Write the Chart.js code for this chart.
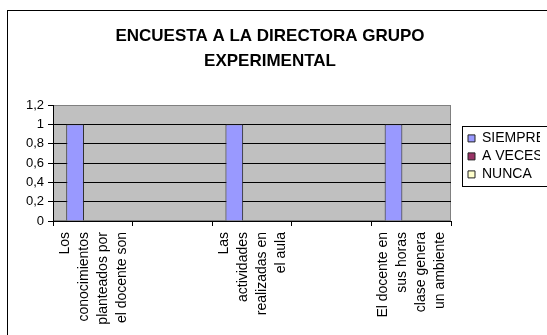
<!DOCTYPE html>
<html>
<head>
<meta charset="utf-8">
<script src="https://cdn.jsdelivr.net/npm/chart.js@4/dist/chart.umd.min.js"></script>
<style>
  html, body { margin: 0; padding: 0; background: #ffffff; overflow: hidden; width: 547px; height: 335px; }
  #frame { position: absolute; left: 7px; top: 10px; width: 600px; height: 400px; border: 1px solid #000; box-sizing: border-box; }
  #c { position: absolute; left: 0; top: 0; }
</style>
</head>
<body>
<div id="frame"></div>
<canvas id="c" width="547" height="335"></canvas>
<script>
const titleLines = ['ENCUESTA A LA DIRECTORA GRUPO', 'EXPERIMENTAL'];
const categories = [
  ['Los', 'conocimientos', 'planteados por', 'el docente son'],
  '',
  ['Las', 'actividades', 'realizadas en', 'el aula'],
  '',
  ['El docente en', 'sus horas', 'clase genera', 'un ambiente']
];
const seriesNames = ['SIEMPRE', 'A VECES', 'NUNCA'];
const siempre = [1, 0, 1, 0, 1];
const aVeces = [0, 0, 0, 0, 0];
const nunca = [0, 0, 0, 0, 0];
const yTickLabels = ['0', '0,2', '0,4', '0,6', '0,8', '1', '1,2'];

const FONT = '"Liberation Sans", Arial, sans-serif';

const plotBg = {
  id: 'plotBg',
  beforeDraw(chart) {
    const { ctx, chartArea: a } = chart;
    ctx.save();
    ctx.fillStyle = '#C0C0C0';
    ctx.fillRect(a.left, a.top, a.width, a.height);
    ctx.strokeStyle = '#808080';
    ctx.lineWidth = 1;
    ctx.strokeRect(a.left + 0.5, a.top + 0.5, a.width - 1, a.height - 1);
    ctx.restore();
  }
};
const legendBorder = {
  id: 'legendBorder',
  afterDraw(chart) {
    const hb = chart.legend && chart.legend.legendHitBoxes;
    if (!hb || !hb.length) return;
    const { ctx } = chart;
    const left = Math.round(hb[0].left) - 6;
    const top = Math.round(hb[0].top) - 5;
    const last = hb[hb.length - 1];
    const bottom = Math.round(last.top + last.height) + 5;
    ctx.save();
    ctx.strokeStyle = '#000';
    ctx.lineWidth = 1;
    ctx.strokeRect(left + 0.5, top + 0.5, chart.width + 20, bottom - top);
    ctx.restore();
  }
};

new Chart(document.getElementById('c'), {
  type: 'bar',
  data: {
    labels: categories,
    datasets: [
      { label: seriesNames[0], data: siempre, backgroundColor: '#9999FF', borderColor: '#222222', borderWidth: 1, borderSkipped: 'start' },
      { label: seriesNames[1], data: aVeces, backgroundColor: '#993366', borderColor: '#222222', borderWidth: 1, borderSkipped: 'start' },
      { label: seriesNames[2], data: nunca, backgroundColor: '#FFFFCC', borderColor: '#222222', borderWidth: 1, borderSkipped: 'start' }
    ]
  },
  options: {
    responsive: false,
    animation: false,
    devicePixelRatio: 1,
    layout: { padding: { left: 0, right: 7, top: 0, bottom: 0 } },
    datasets: { bar: { categoryPercentage: 0.667, barPercentage: 1.0 } },
    plugins: {
      title: {
        display: true,
        text: titleLines,
        color: '#000',
        font: { family: FONT, size: 17, weight: 'bold', lineHeight: '25px' },
        padding: { top: 24, bottom: 31 }
      },
      legend: {
        position: 'right',
        align: 'start',
        fullSize: false,
        maxWidth: 76,
        title: { display: true, text: '', font: { size: 12 }, padding: { top: 8, bottom: 0 } },
        labels: {
          color: '#000',
          font: { family: FONT, size: 14 },
          boxWidth: 7,
          boxHeight: 7,
          padding: 4
        }
      },
      tooltip: { enabled: false }
    },
    scales: {
      x: {
        offset: true,
        grid: { display: true, drawOnChartArea: false, drawTicks: true, tickLength: 5, color: '#000', offset: true },
        border: { display: true, color: '#000' },
        ticks: {
          autoSkip: false,
          minRotation: 90,
          maxRotation: 90,
          padding: 6,
          labelOffset: -28,
          color: '#000',
          font: { family: FONT, size: 14, lineHeight: '19px' }
        },
        afterFit(s) { s.height = 114; }
      },
      y: {
        min: 0,
        max: 1.2,
        ticks: {
          stepSize: 0.2,
          color: '#000',
          padding: 4,
          font: { family: FONT, size: 13 },
          callback: (v, i) => yTickLabels[i]
        },
        grid: {
          color: (c) => (c.index === yTickLabels.length - 1 ? '#808080' : '#000'),
          tickColor: '#000',
          tickLength: 5,
          lineWidth: 1
        },
        border: { display: true, color: '#000' },
        afterFit(s) { s.width = 53; }
      },
      gap: {
        type: 'linear',
        position: 'right',
        display: true,
        grid: { display: false },
        ticks: { display: false },
        border: { display: false },
        afterFit(s) { s.width = 13; }
      }
    }
  },
  plugins: [plotBg, legendBorder]
});
</script>
</body>
</html>
